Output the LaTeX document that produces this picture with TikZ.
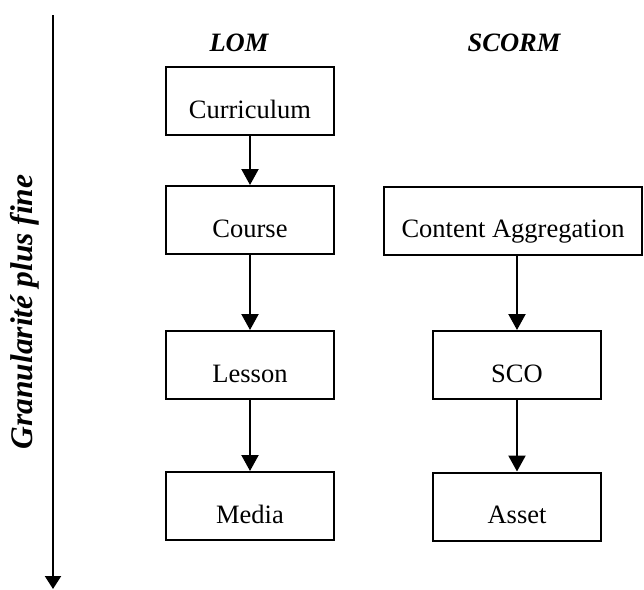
\documentclass[tikz,border=0pt]{standalone}
\usepackage{fontspec}
\setmainfont{Liberation Serif}
\usetikzlibrary{arrows.meta}

\begin{document}
\begin{tikzpicture}[x=0.5pt,y=-0.5pt,
    box/.style={draw, line width=1pt, minimum width=84pt, inner ysep=0pt,
                text height=25.5pt, text depth=8.5pt,
                font=\fontsize{13.25}{16}\selectfont},
    head/.style={anchor=base, font=\bfseries\itshape\fontsize{13.25}{16}\selectfont},
    link/.style={-{Triangle[width=8.5pt,length=8pt]}, line width=1.1pt}]
     \useasboundingbox (0,0) rectangle (644,590);

     % axe de granularite
     \coordinate (T) at (53,15);
     \coordinate (B) at (53,589);
     \draw [-{Triangle[width=8pt,length=6.5pt]}, line width=1.1pt] (T) -- (B);
     \node[rotate=90, font=\bfseries\itshape\fontsize{15.75}{18}\selectfont] (gran) at (25,312) {Granularité plus fine};

     % LOM
     \node[head] (lom) at (239,51) {LOM};
     \node[box] (curr) at (250,101) {Curriculum};
     \node[box] (cour) at (250,220) {Course};
     \node[box] (less) at (250,365) {Lesson};
     \node[box] (media) at (250,506) {Media};

     % SCORM
     \node[head] (scorm) at (514,51) {SCORM};
     \node[box, minimum width=129pt] (ca) at (513,220.5) {Content Aggregation};
     \node[box] (sco) at (517,365) {SCO};
     \node[box] (asset) at (517,506.5) {Asset};

     \draw [link] (curr) -- (cour);
     \draw [link] (cour) -- (less);
     \draw [link] (less) -- (media);
     \draw [link] (ca.south -| sco.north) -- (sco.north);
     \draw [link] (sco) -- (asset);

\end{tikzpicture}
\end{document}
